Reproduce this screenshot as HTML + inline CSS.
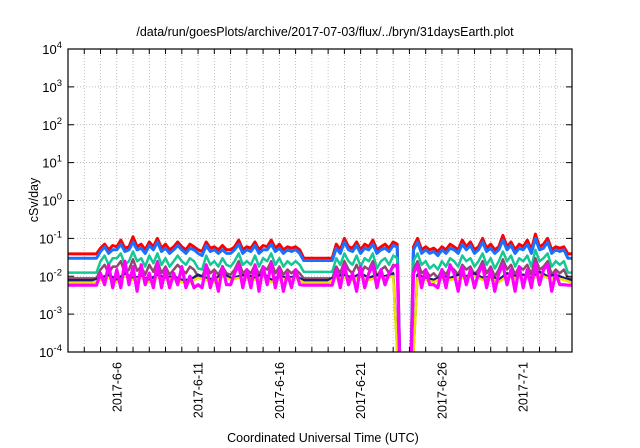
<!DOCTYPE html>
<html><head><meta charset="utf-8"><style>
body{margin:0;background:#fff;}
svg{display:block;font-family:"Liberation Sans",sans-serif;}
</style></head><body>
<svg id="chart" width="640" height="448" viewBox="0 0 640 448">
<rect width="640" height="448" fill="#fff"/>
<text x="325" y="36" font-size="12.5" text-anchor="middle">/data/run/goesPlots/archive/2017-07-03/flux/../bryn/31daysEarth.plot</text>
<text transform="translate(38,200) rotate(-90)" font-size="12.5" text-anchor="middle">cSv/day</text>
<text x="323" y="442" font-size="12.5" text-anchor="middle">Coordinated Universal Time (UTC)</text>
<defs><clipPath id="pc"><rect x="68" y="49" width="504" height="303"/></clipPath></defs>
<g id="grid"></g>
<g id="series" clip-path="url(#pc)"></g>
<g id="axes"></g>
</svg>
<script>
const decades=[-4,-3,-2,-1,0,1,2,3,4];
const dayLabels=["2017-6-6","2017-6-11","2017-6-16","2017-6-21","2017-6-26","2017-7-1"];
const dayLabelPos=[3,8,13,18,23,28];
const totalDays=31;
const redStep=0.25;
const red=[0.039,0.039,0.039,0.039,0.039,0.039,0.039,0.039,
0.055,0.07,0.05,0.065,0.06,0.09,0.055,0.06,0.11,0.06,0.07,0.05,0.08,0.06,0.1,0.055,0.07,0.05,0.06,0.08,0.06,0.05,0.07,0.06,0.05,0.045,0.08,0.055,0.06,0.05,0.065,0.05,0.05,0.06,0.09,0.05,0.06,0.055,0.08,0.05,0.065,0.06,0.09,0.055,0.07,0.05,0.06,0.055,0.06,0.05,
0.03,0.03,0.03,0.03,0.03,0.03,0.03,0.03,
0.07,0.05,0.1,0.06,0.055,0.08,0.05,0.07,0.06,0.09,0.05,0.06,0.07,0.055,0.08,0.07,1e-6,1e-6,1e-6,
0.06,0.1,0.05,0.06,0.05,0.055,0.045,0.06,0.05,0.07,0.06,0.05,0.09,0.06,0.08,0.05,0.06,0.1,0.055,0.07,0.05,0.06,0.12,0.06,0.08,0.05,0.07,0.06,0.09,0.05,0.13,0.06,0.07,0.1,0.05,0.06,0.055,0.06,
0.039,0.039];
const blue=[0.03,0.03,0.03,0.03,0.03,0.03,0.03,0.03,
0.045,0.06,0.04,0.05,0.05,0.07,0.045,0.05,0.08,0.05,0.055,0.04,0.065,0.05,0.08,0.045,0.055,0.04,0.05,0.065,0.05,0.04,0.055,0.05,0.04,0.035,0.065,0.045,0.05,0.04,0.05,0.04,0.04,0.05,0.07,0.04,0.05,0.045,0.065,0.04,0.05,0.05,0.07,0.045,0.055,0.04,0.05,0.045,0.05,0.04,
0.026,0.026,0.026,0.026,0.026,0.026,0.026,0.026,
0.055,0.04,0.08,0.05,0.045,0.065,0.04,0.055,0.05,0.07,0.04,0.05,0.055,0.045,0.065,0.06,1e-6,1e-6,1e-6,
0.05,0.08,0.04,0.05,0.04,0.045,0.035,0.05,0.04,0.055,0.05,0.04,0.07,0.05,0.065,0.04,0.05,0.08,0.045,0.055,0.04,0.05,0.09,0.05,0.065,0.04,0.055,0.05,0.07,0.04,0.1,0.05,0.055,0.08,0.04,0.05,0.045,0.05,
0.03,0.03];
const teal=[0.0125,0.0125,0.0125,0.0125,0.0125,0.0125,0.0125,0.0125,
0.025,0.035,0.02,0.03,0.03,0.04,0.02,0.025,0.045,0.025,0.03,0.018,0.035,0.022,0.04,0.02,0.03,0.018,0.025,0.035,0.025,0.02,0.03,0.025,0.016,0.015,0.035,0.02,0.025,0.018,0.03,0.02,0.018,0.025,0.04,0.02,0.025,0.02,0.035,0.018,0.03,0.025,0.04,0.02,0.03,0.018,0.025,0.02,0.025,0.02,
0.013,0.013,0.013,0.013,0.013,0.013,0.013,0.013,
0.03,0.02,0.04,0.025,0.02,0.035,0.018,0.03,0.025,0.04,0.016,0.025,0.03,0.02,0.035,0.03,1e-6,1e-6,1e-6,
0.025,0.04,0.02,0.025,0.016,0.02,0.015,0.025,0.018,0.03,0.025,0.018,0.035,0.025,0.03,0.018,0.025,0.04,0.02,0.03,0.016,0.025,0.045,0.025,0.035,0.018,0.03,0.025,0.035,0.018,0.05,0.025,0.03,0.04,0.018,0.025,0.02,0.025,
0.0125,0.0125];
const brown=[0.0088,0.0088,0.0088,0.0088,0.0088,0.0088,0.0088,0.0088,
0.015,0.02,0.012,0.018,0.018,0.025,0.012,0.015,0.028,0.014,0.018,0.011,0.02,0.013,0.025,0.012,0.018,0.011,0.015,0.02,0.015,0.012,0.018,0.015,0.01,0.009,0.02,0.012,0.015,0.011,0.018,0.012,0.011,0.015,0.025,0.012,0.015,0.012,0.02,0.011,0.018,0.015,0.025,0.012,0.018,0.011,0.015,0.012,0.015,0.012,
0.0088,0.0088,0.0088,0.0088,0.0088,0.0088,0.0088,0.0088,
0.018,0.012,0.025,0.015,0.012,0.02,0.011,0.018,0.015,0.025,0.01,0.015,0.018,0.012,0.02,0.018,1e-6,1e-6,1e-6,
0.015,0.025,0.012,0.015,0.01,0.012,0.009,0.015,0.011,0.018,0.015,0.011,0.02,0.015,0.018,0.011,0.015,0.025,0.012,0.018,0.01,0.015,0.028,0.015,0.02,0.011,0.018,0.015,0.02,0.011,0.03,0.015,0.018,0.025,0.011,0.015,0.012,0.015,
0.0088,0.0088];
const magenta=[0.0058,0.0058,0.0058,0.0058,0.0058,0.0058,0.0058,0.0058,
0.012,0.006,0.02,0.005,0.015,0.005,0.025,0.006,0.018,0.004,0.02,0.006,0.012,0.005,0.022,0.005,0.015,0.005,0.012,0.006,0.018,0.005,0.01,0.005,0.006,0.005,0.02,0.005,0.012,0.004,0.018,0.006,0.006,0.012,0.02,0.005,0.015,0.005,0.02,0.004,0.018,0.006,0.022,0.005,0.015,0.004,0.012,0.005,0.015,0.006,
0.0058,0.0058,0.0058,0.0058,0.0058,0.0058,0.0058,0.0058,
0.015,0.005,0.02,0.006,0.012,0.004,0.018,0.005,0.012,0.02,0.005,0.015,0.006,0.012,0.018,0.02,1e-6,1e-6,1e-6,
0.012,0.02,0.005,0.015,0.006,0.006,0.005,0.015,0.005,0.02,0.012,0.004,0.018,0.006,0.015,0.005,0.012,0.02,0.005,0.015,0.004,0.012,0.02,0.006,0.015,0.004,0.018,0.005,0.015,0.005,0.022,0.006,0.015,0.02,0.004,0.012,0.006,0.006,
0.0058,0.0058];
const halfStep=0.5;
const navy=[0.0078,0.0078,0.0078,0.0078,
0.009,0.011,0.008,0.012,0.009,0.01,0.008,0.011,0.009,0.01,0.008,0.008,0.011,0.009,0.008,0.012,0.009,0.01,0.011,0.009,0.012,0.008,0.01,0.009,0.01,
0.0078,0.0078,0.0078,0.0078,
0.01,0.011,0.009,0.012,0.009,0.011,0.01,0.012,1e-6,1e-6,0.011,0.009,0.008,0.01,0.009,0.011,0.01,0.012,0.009,0.01,0.008,0.012,0.01,0.011,0.009,0.013,0.01,0.011,0.009,
0.0078];
const yellow=[0.0068,0.0068,0.0068,0.0068,
0.008,0.009,0.007,0.01,0.008,0.009,0.007,0.009,0.008,0.009,0.007,0.007,0.009,0.008,0.007,0.01,0.008,0.009,0.009,0.008,0.01,0.007,0.009,0.008,0.009,
0.0068,0.0068,0.0068,0.0068,
0.009,0.009,0.008,0.01,0.008,0.009,0.009,0.01,1e-6,1e-6,0.009,0.008,0.007,0.009,0.008,0.009,0.009,0.01,0.008,0.009,0.007,0.01,0.009,0.009,0.008,0.011,0.009,0.009,0.008,
0.0068];
const L=68,R=572,T=49,B=352;
const xs=d=>L+d*(R-L)/totalDays;
const ys=v=>B-(Math.log10(v)+4)*(B-T)/8;
const NS="http://www.w3.org/2000/svg";
function mk(tag,attrs,parent){const e=document.createElementNS(NS,tag);for(const k in attrs)e.setAttribute(k,attrs[k]);parent.appendChild(e);return e;}
const grid=document.getElementById('grid'),axes=document.getElementById('axes'),ser=document.getElementById('series');
for(let d=1;d<totalDays;d++){
  const l=mk('line',{x1:xs(d),x2:xs(d),y1:T,y2:B,stroke:'#aaa','stroke-width':0.7,'stroke-dasharray':'1,2'},grid);
  
  
  const t1=mk('line',{x1:xs(d),x2:xs(d),y1:B,y2:B-5,stroke:'#000','stroke-width':1},axes);
  
  
  const t2=mk('line',{x1:xs(d),x2:xs(d),y1:T,y2:T+5,stroke:'#000','stroke-width':1},axes);
  
  
}
decades.forEach(p=>{
  const y=ys(Math.pow(10,p));
  if(p>-4&&p<4){
    const g=mk('line',{x1:L,x2:R,y1:y,y2:y,stroke:'#aaa','stroke-width':0.7,'stroke-dasharray':'1,2'},grid);
    
    
  }
  const a=mk('line',{x1:L,x2:L+6,y1:y,y2:y,stroke:'#000'},axes);
  
  
  const b=mk('line',{x1:R,x2:R-6,y1:y,y2:y,stroke:'#000'},axes);
  
  
  const t=mk('text',{x:62,y:y+5,'font-size':13,'text-anchor':'end'},axes);
  
  
  t.innerHTML='10<tspan dy="-6" font-size="9.5">'+p+'</tspan>';
});
dayLabels.forEach((s,i)=>{
  const x=xs(dayLabelPos[i]);
  const t=mk('text',{transform:`translate(${x+4.5},362) rotate(-90)`,'font-size':12.5,'text-anchor':'end'},axes);
  
  
  t.textContent=s;
});
function drawSeries(arr,step,color,name,w){
  const pts=arr.map((v,i)=>xs(i*step).toFixed(1)+','+Math.max(ys(v),-50).toFixed(1)).join(' ');
  const p=mk('polyline',{points:pts,fill:'none',stroke:color,'stroke-width':w,'stroke-linejoin':'round'},ser);
  
  
}
drawSeries(red,redStep,'#ff0000','series-red',3);
drawSeries(blue,redStep,'#1a70ff','series-blue',3);
drawSeries(teal,redStep,'#14c896','series-teal',2.5);
drawSeries(brown,redStep,'#8c4a6e','series-brown',2.5);
drawSeries(navy,halfStep,'#1a1a80','series-navy',2.5);
drawSeries(yellow,halfStep,'#f0e000','series-yellow',2.5);
drawSeries(magenta,redStep,'#ff00ff','series-magenta',3.2);
const fr=mk('rect',{x:L,y:T,width:R-L,height:B-T,fill:'none',stroke:'#000','stroke-width':1.2},axes);


</script>
</body></html>
